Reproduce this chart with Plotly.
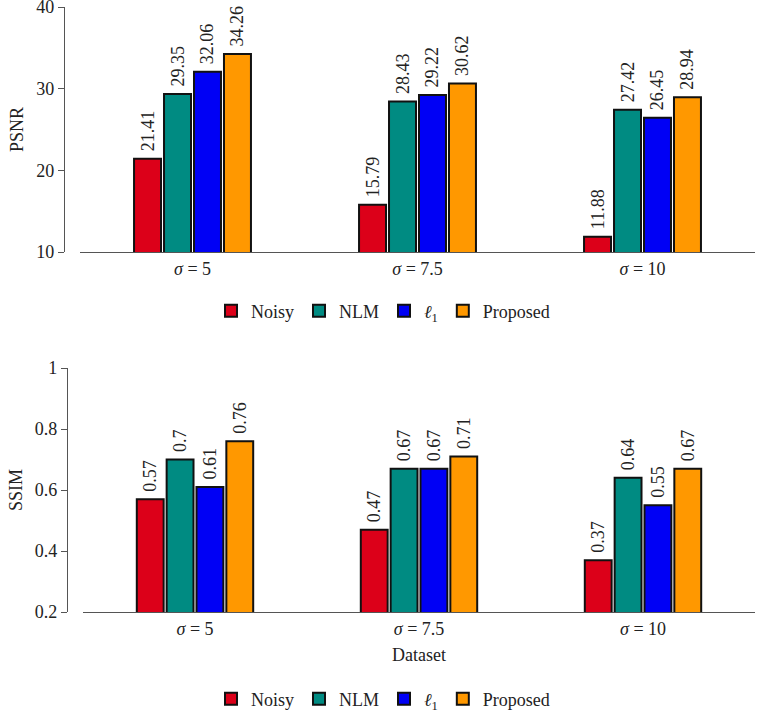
import plotly.graph_objects as go

categories = ["<i>σ</i> = 5", "<i>σ</i> = 7.5", "<i>σ</i> = 10"]
methods = ["Noisy", "NLM", "<i>ℓ</i><sub>1</sub>", "Proposed"]
colors = ["#dc0019", "#008b82", "#0000f5", "#ff9800"]

psnr_noisy = [21.41, 15.79, 11.88]
psnr_nlm = [29.35, 28.43, 27.42]
psnr_l1 = [32.06, 29.22, 26.45]
psnr_proposed = [34.26, 30.62, 28.94]

ssim_noisy = [0.57, 0.47, 0.37]
ssim_nlm = [0.7, 0.67, 0.64]
ssim_l1 = [0.61, 0.67, 0.55]
ssim_proposed = [0.76, 0.71, 0.67]

psnr = [psnr_noisy, psnr_nlm, psnr_l1, psnr_proposed]
ssim = [ssim_noisy, ssim_nlm, ssim_l1, ssim_proposed]

FONT = "Liberation Serif, serif"
TXT = "#222"
PAD = "\u00a0"
fig = go.Figure()

for i, (m, c) in enumerate(zip(methods, colors)):
    fig.add_trace(go.Bar(
        x=categories, y=psnr[i], name=m, marker=dict(color=c, line=dict(color="#111", width=2)),
        text=[f"{PAD}{v:g}" for v in psnr[i]], textposition="outside", textangle=-90,
        constraintext="none",
        textfont=dict(family=FONT, size=18, color=TXT), cliponaxis=False,
        xaxis="x", yaxis="y", legend="legend"))
for i, (m, c) in enumerate(zip(methods, colors)):
    fig.add_trace(go.Bar(
        x=categories, y=ssim[i], name=m, marker=dict(color=c, line=dict(color="#111", width=2)),
        text=[f"{PAD}{v:g}" for v in ssim[i]], textposition="outside", textangle=-90,
        constraintext="none",
        textfont=dict(family=FONT, size=18, color=TXT), cliponaxis=False,
        xaxis="x2", yaxis="y2", legend="legend2"))

L, R, T, B = 60, 5, 7, 99
W = 760 - L - R
H = 711 - T - B

def px_x(p):
    return (p - L) / W

def px_y(p):
    return (711 - B - p) / H

axis_font = dict(family=FONT, size=18, color=TXT)

fig.update_layout(
    width=760, height=711,
    margin=dict(l=L, r=R, t=T, b=B, autoexpand=False),
    paper_bgcolor="white", plot_bgcolor="white",
    font=dict(family=FONT, size=18, color=TXT),
    barmode="group", bargap=0.467, bargroupgap=0.1,
    xaxis=dict(domain=[px_x(80), 1], anchor="y", showline=True, linecolor="#555", linewidth=1.2,
               ticks="", showgrid=False, tickfont=axis_font, automargin=False,
               ticklabeloverflow="allow"),
    yaxis=dict(domain=[px_y(252), 1], anchor="free", position=px_x(64), range=[10, 40],
               tickvals=[10, 20, 30, 40], showline=True, linecolor="#555", linewidth=1.2,
               ticks="outside", ticklen=6, tickcolor="#555", showgrid=False, zeroline=False,
               tickfont=axis_font, automargin=False, ticklabeloverflow="allow",
               title=dict(text="PSNR", font=axis_font, standoff=6)),
    xaxis2=dict(domain=[px_x(83), 1], anchor="y2", showline=True, linecolor="#555", linewidth=1.2,
                ticks="", showgrid=False, tickfont=axis_font, automargin=False,
                ticklabeloverflow="allow",
                title=dict(text="Dataset", font=axis_font, standoff=10)),
    yaxis2=dict(domain=[0, px_y(368)], anchor="free", position=px_x(67), range=[0.2, 1],
                tickvals=[0.2, 0.4, 0.6, 0.8, 1], ticktext=["0.2", "0.4", "0.6", "0.8", "1"],
                showline=True, linecolor="#555", linewidth=1.2,
                ticks="outside", ticklen=6, tickcolor="#555", showgrid=False, zeroline=False,
                tickfont=axis_font, automargin=False, ticklabeloverflow="allow",
                title=dict(text="SSIM", font=axis_font, standoff=6)),
    legend=dict(orientation="h", x=px_x(383), xanchor="center", y=px_y(311), yanchor="middle",
                font=dict(family=FONT, size=18, color=TXT), itemwidth=30, tracegroupgap=0,
                bgcolor="rgba(0,0,0,0)"),
    legend2=dict(orientation="h", x=px_x(383), xanchor="center", y=px_y(699), yanchor="middle",
                 font=dict(family=FONT, size=18, color=TXT), itemwidth=30, tracegroupgap=0,
                 bgcolor="rgba(0,0,0,0)"),
)

fig.write_html("out.html", config={"displayModeBar": False},
               post_script="document.body.style.margin='0';")
